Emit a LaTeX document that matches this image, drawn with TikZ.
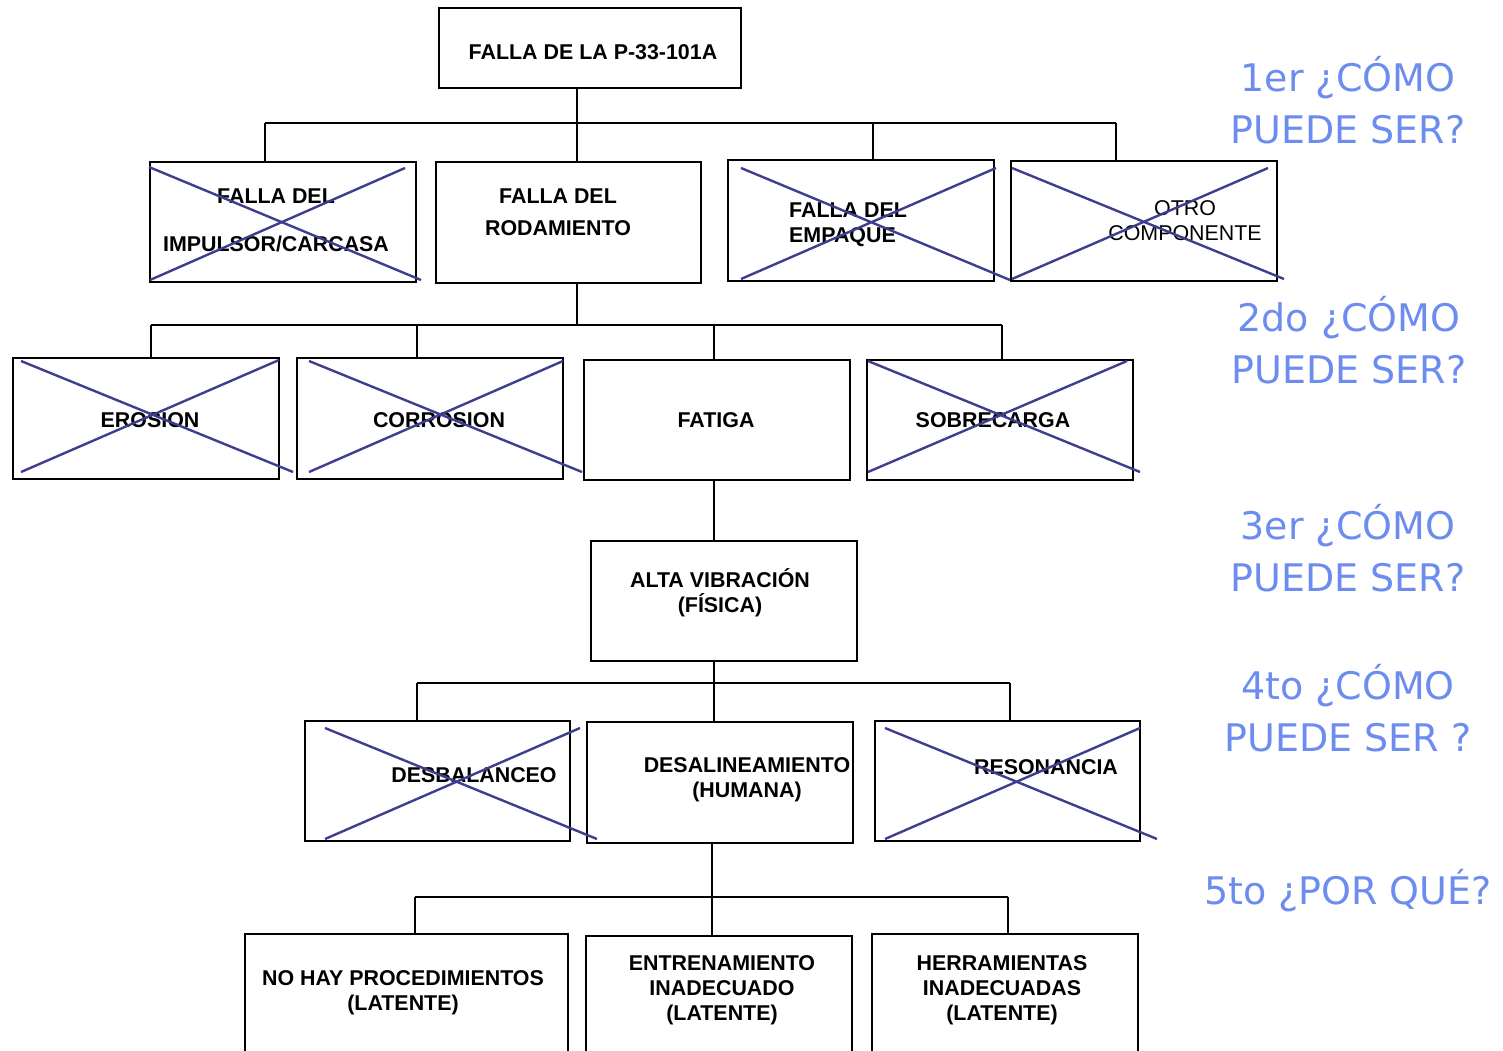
\documentclass[tikz,border=0pt]{standalone}
\usepackage{fontspec}
\setmainfont{Liberation Sans}
\newfontfamily\dvfont{DejaVu Sans}
\definecolor{crossblue}{RGB}{62,62,142}
\definecolor{qblue}{RGB}{108,140,240}
\begin{document}
\begin{tikzpicture}[x=1pt,y=-1pt,
  box/.style={draw=black,line width=2.6pt,rectangle,inner sep=0pt},
  btxt/.style={font=\fontsize{21.4}{25}\selectfont\bfseries,align=center,inner sep=0pt},
  rtxt/.style={font=\fontsize{21.4}{25}\selectfont,align=center,inner sep=0pt},
  conn/.style={draw=black,line width=2.2pt},
  xline/.style={draw=crossblue,line width=2.4pt},
  qtxt/.style={font=\dvfont\fontsize{38}{52}\selectfont,text=qblue,align=center,inner sep=0pt}]
\useasboundingbox (0,0) rectangle (1503,1051);
% boxes
\newcommand\bx[5]{\node[box,minimum width=#4-#2,minimum height=#5-#3] (#1) at ({(#2+#4)/2},{(#3+#5)/2}) {};}
\bx{top}{439}{8}{741}{88}
\bx{b1}{150}{162}{416}{282}
\bx{b2}{436}{162}{701}{283}
\bx{b3}{728}{160}{994}{281}
\bx{b4}{1011}{161}{1277}{281}
\bx{c1}{13}{358}{279}{479}
\bx{c2}{297}{358}{563}{479}
\bx{c3}{584}{360}{850}{480}
\bx{c4}{867}{360}{1133}{480}
\bx{d}{591}{541}{857}{661}
\bx{e1}{305}{721}{570}{841}
\bx{e2}{587}{722}{853}{843}
\bx{e3}{875}{721}{1140}{841}
\bx{f1}{245}{934}{568}{1080}
\bx{f2}{586}{936}{852}{1080}
\bx{f3}{872}{934}{1138}{1080}
% texts
\node[btxt] (ttop) at (593,52) {FALLA DE LA P-33-101A};
\node[btxt] (tb1) at (276,220) {FALLA DEL\\[23pt]IMPULSOR/CARCASA};
\node[btxt] (tb2) at (558,212) {FALLA DEL\\[7pt]RODAMIENTO};
\node[btxt,align=left,anchor=west] (tb3) at (789,225) {FALLA DEL\\EMPAQUE};
\node[rtxt] (tb4) at (1185,221) {OTRO\\COMPONENTE};
\node[btxt] (tc1) at (150,420) {EROSION};
\node[btxt] (tc2) at (439,420) {CORROSION};
\node[btxt] (tc3) at (716,420) {FATIGA};
\node[btxt] (tc4) at (993,420) {SOBRECARGA};
\node[btxt] (td) at (720,593) {ALTA VIBRACIÓN\\(FÍSICA)};
\node[btxt] (te1) at (474,775) {DESBALANCEO};
\node[btxt] (te2) at (747,780) {DESALINEAMIENTO\\(HUMANA)};
\node[btxt] (te3) at (1046,767) {RESONANCIA};
\node[btxt] (tf1) at (403,993) {NO HAY PROCEDIMIENTOS\\(LATENTE)};
\node[btxt] (tf2) at (722,990) {ENTRENAMIENTO\\INADECUADO\\(LATENTE)};
\node[btxt] (tf3) at (1002,990) {HERRAMIENTAS\\INADECUADAS\\(LATENTE)};
% crosses
\draw[xline] (149,167) -- (421,280) (150,280) -- (405,168);
\draw[xline] (741,168) -- (1010,280) (741,279) -- (996,168);
\draw[xline] (1012,168) -- (1284,279) (1012,279) -- (1268,168);
\draw[xline] (21,361) -- (293,472) (21,472) -- (279,360);
\draw[xline] (309,361) -- (582,472) (309,472) -- (563,361);
\draw[xline] (868,361) -- (1140,472) (868,472) -- (1127,361);
\draw[xline] (325,728) -- (597,839) (325,839) -- (580,728);
\draw[xline] (885,728) -- (1157,839) (885,839) -- (1140,728);
% connectors level 1
\coordinate (j1) at (577,123);
\coordinate (j1l) at (265,123);
\coordinate (j1a) at (873,123);
\coordinate (j1r) at (1116,123);
\draw[conn] (j1 |- top.south) -- (j1);
\draw[conn] (j1l) -- (j1r);
\draw[conn] (j1l) -- (j1l |- b1.north);
\draw[conn] (j1) -- (j1 |- b2.north);
\draw[conn] (j1a) -- (j1a |- b3.north);
\draw[conn] (j1r) -- (j1r |- b4.north);
% level 2
\coordinate (j2) at (577,325);
\coordinate (j2l) at (151,325);
\coordinate (j2a) at (417,325);
\coordinate (j2b) at (714,325);
\coordinate (j2r) at (1002,325);
\draw[conn] (j2 |- b2.south) -- (j2);
\draw[conn] (j2l) -- (j2r);
\draw[conn] (j2l) -- (j2l |- c1.north);
\draw[conn] (j2a) -- (j2a |- c2.north);
\draw[conn] (j2b) -- (j2b |- c3.north);
\draw[conn] (j2r) -- (j2r |- c4.north);
% level 3
\coordinate (j3) at (714,500);
\draw[conn] (j3 |- c3.south) -- (j3 |- d.north);
% level 4
\coordinate (j4) at (714,683);
\coordinate (j4l) at (417,683);
\coordinate (j4r) at (1010,683);
\draw[conn] (j4 |- d.south) -- (j4);
\draw[conn] (j4l) -- (j4r);
\draw[conn] (j4l) -- (j4l |- e1.north);
\draw[conn] (j4) -- (j4 |- e2.north);
\draw[conn] (j4r) -- (j4r |- e3.north);
% level 5
\coordinate (j5) at (712,897);
\coordinate (j5l) at (415,897);
\coordinate (j5r) at (1008,897);
\draw[conn] (j5 |- e2.south) -- (j5);
\draw[conn] (j5l) -- (j5r);
\draw[conn] (j5l) -- (j5l |- f1.north);
\draw[conn] (j5) -- (j5 |- f2.north);
\draw[conn] (j5r) -- (j5r |- f3.north);
% right labels
\node[qtxt] (q1) at (1348,100) {1er ¿CÓMO\\PUEDE SER?};
\node[qtxt] (q2) at (1349,340) {2do ¿CÓMO\\PUEDE SER?};
\node[qtxt] (q3) at (1348,548) {3er ¿CÓMO\\PUEDE SER?};
\node[qtxt] (q4) at (1348,708) {4to ¿CÓMO\\PUEDE SER ?};
\node[qtxt] (q5) at (1348,891) {5to ¿POR QUÉ?};
\end{tikzpicture}
\end{document}
